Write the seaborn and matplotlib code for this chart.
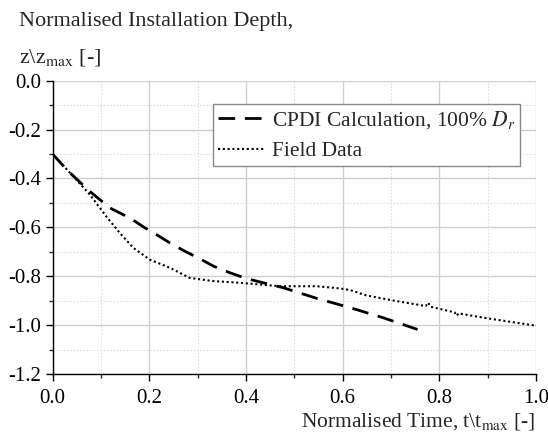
import matplotlib
matplotlib.use("Agg")
import matplotlib.pyplot as plt
from matplotlib.ticker import MultipleLocator
import seaborn as sns
import pandas as pd

cpdi_t = [0.0, 0.029, 0.077, 0.119, 0.16, 0.191, 0.215, 0.243, 0.27, 0.305, 0.333,
          0.367, 0.402, 0.436, 0.477, 0.547, 0.616, 0.684, 0.755]
cpdi_z = [-0.30, -0.364, -0.453, -0.521, -0.562, -0.602, -0.63, -0.664, -0.694, -0.729,
          -0.759, -0.786, -0.81, -0.827, -0.847, -0.891, -0.929, -0.97, -1.018]

field_t = [0.0, 0.043, 0.077, 0.111, 0.139, 0.167, 0.201, 0.243, 0.284, 0.333, 0.388,
           0.47, 0.547, 0.595, 0.616, 0.65, 0.712, 0.772, 0.777, 0.782, 0.832, 0.836,
           0.84, 0.892, 0.995, 1.0]
field_z = [-0.30, -0.392, -0.466, -0.555, -0.623, -0.684, -0.732, -0.766, -0.807, -0.82,
           -0.827, -0.841, -0.841, -0.85, -0.857, -0.879, -0.902, -0.922, -0.908, -0.925,
           -0.948, -0.962, -0.952, -0.97, -1.001, -1.003]

sns.set_style("ticks")
plt.rcParams['font.family'] = ['Liberation Serif', 'DejaVu Serif']
plt.rcParams['mathtext.fontset'] = 'stix'

fig = plt.figure(figsize=(5.48, 4.41), dpi=100)
ax = fig.add_axes([0.096, 0.152, 0.882, 0.665])

df1 = pd.DataFrame({"t": cpdi_t, "z": cpdi_z})
df2 = pd.DataFrame({"t": field_t, "z": field_z})

sns.lineplot(data=df1, x="t", y="z", ax=ax, color="black", linewidth=2.0,
             label=r"CPDI Calculation, 100% $D_r$", sort=False)
sns.lineplot(data=df2, x="t", y="z", ax=ax, color="black", linewidth=1.5,
             label="Field Data", sort=False)
ax.lines[0].set_dashes([6, 3.5])
ax.lines[1].set_linestyle((0, (1, 1.3)))

ax.set_xlim(0, 1.0)
ax.set_ylim(-1.2, 0.0)
ax.xaxis.set_minor_locator(MultipleLocator(0.1))
ax.yaxis.set_minor_locator(MultipleLocator(0.1))
ax.set_yticks([0.0, -0.2, -0.4, -0.6, -0.8, -1.0, -1.2])
ax.set_yticklabels(["0.0", "-0.2", "-0.4", "-0.6", "-0.8", "-1.0", "-1.2"])
ax.set_xticks([0.0, 0.2, 0.4, 0.6, 0.8, 1.0])
ax.set_xticklabels(["0.0", "0.2", "0.4", "0.6", "0.8", "1.0"])

ax.grid(which="major", color="#cfcfcf", linewidth=1.0, linestyle="-")
ax.grid(which="minor", color="#dddddd", linewidth=0.8, linestyle=(0, (1.5, 1.5)))
ax.set_axisbelow(True)

for s in ["top", "right"]:
    ax.spines[s].set_visible(False)
for s in ["left", "bottom"]:
    ax.spines[s].set_color("black")
    ax.spines[s].set_linewidth(1.0)
ax.tick_params(which="major", direction="out", length=5, width=1, labelsize=15, colors="black")
ax.tick_params(axis="x", which="major", pad=6)
ax.tick_params(axis="y", which="major", pad=3)
ax.tick_params(which="minor", direction="out", length=3, width=1)

ax.set_xlabel("")
ax.set_ylabel("")
fig.text(0.035, 0.941, "Normalised Installation Depth,", fontsize=16, ha="left", va="baseline")
fig.text(0.035, 0.859, r"z\z$_{\mathrm{max}}$ [-]", fontsize=16, ha="left", va="baseline")
fig.text(0.977, 0.032, r"Normalised Time, t\t$_{\mathrm{max}}$ [-]", fontsize=15.5,
         ha="right", va="baseline")

leg = ax.legend(loc="upper right", bbox_to_anchor=(0.967, 0.921), fontsize=15.5,
                frameon=True, fancybox=False, edgecolor="#888888", framealpha=1,
                handlelength=2.2, borderpad=0.22, labelspacing=0.5, handletextpad=0.3,
                borderaxespad=0.0)
leg.get_frame().set_linewidth(1.0)

fig.savefig("out.png", dpi=100)
